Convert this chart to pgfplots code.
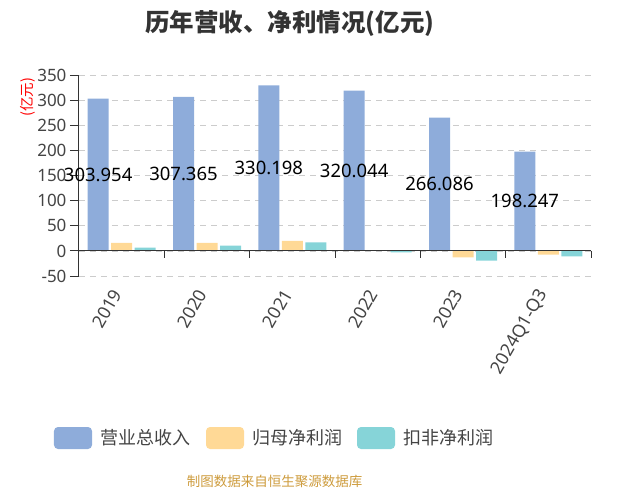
\documentclass[border=0pt]{standalone}
\usepackage{pgfplots}
\pgfplotsset{compat=1.18}
\usepackage{fontspec}
\setmainfont{Noto Sans}
\newfontfamily\cjk{Noto Sans CJK SC}
\definecolor{cRev}{RGB}{142,172,218}
\definecolor{cNet}{RGB}{255,217,150}
\definecolor{cDed}{RGB}{134,212,216}
\definecolor{axisc}{RGB}{51,51,51}
\definecolor{txt}{RGB}{68,68,68}
\definecolor{foot}{RGB}{205,155,60}
\begin{document}
\begin{tikzpicture}
\path[use as bounding box] (-79pt,-212pt) rectangle (539pt,276pt);
\begin{axis}[
  at={(0pt,0pt)}, anchor=south west, scale only axis,
  width=512pt, height=200.5pt,
  xmin=-0.5, xmax=5.5, ymin=-50, ymax=350,
  axis x line*=bottom, axis y line*=left,
  x axis line style={draw=none},
  y axis line style={axisc, line width=1pt},
  xtick={0,...,5}, xticklabels={2019,2020,2021,2022,2023,2024Q1-Q3},
  xtick style={draw=none},
  ytick={-50,0,...,350},
  ytick style={axisc, line width=1pt},
  tick align=outside, major tick length=9pt,
  ymajorgrids, grid style={dash pattern=on 6pt off 5pt, color=gray!40, line width=0.8pt},
  /pgf/number format/assume math mode=true,
  yticklabel style={font=\fontsize{17}{20}\selectfont, text=txt},
  xticklabel style={font=\fontsize{17.8}{20}\selectfont, text=txt, rotate=60, anchor=east, xshift=-4pt, yshift=1pt},
  clip=false,
]
\addplot[ybar, bar width=21pt, bar shift=-23.5pt, fill=cRev, draw=none] coordinates {(0,303.954)(1,307.365)(2,330.198)(3,320.044)(4,266.086)(5,198.247)};
\addplot[ybar, bar width=21pt, bar shift=0pt, fill=cNet, draw=none] coordinates {(0,16)(1,16)(2,20)(3,0.8)(4,-13)(5,-7.5)};
\addplot[ybar, bar width=21pt, bar shift=23.5pt, fill=cDed, draw=none] coordinates {(0,6.5)(1,10.5)(2,17)(3,-3)(4,-19.5)(5,-11)};
\addplot[only marks, mark=none, nodes near coords, point meta=explicit symbolic,
  nodes near coords style={font=\fontsize{18.5}{21}\selectfont, text=black, anchor=center}]
  coordinates {(-0.2754,151.977)[303.954] (0.7246,153.683)[307.365] (1.7246,165.099)[330.198] (2.7246,160.022)[320.044] (3.7246,133.043)[266.086] (4.7246,99.124)[198.247]};
\draw[axisc, line width=1pt] (axis cs:-0.5,0) -- (axis cs:5.5,0);
\pgfplotsinvokeforeach{0.5,1.5,2.5,3.5,4.5,5.5}{\draw[axisc, line width=1pt] (axis cs:#1,0) -- ++(0pt,-7pt);}
\end{axis}
\node[font=\cjk\bfseries\fontsize{24.5}{28}\selectfont, text=axisc] at (211pt,253pt) {历年营收、净利情况(亿元)};
\node[font=\cjk\fontsize{14.5}{16}\selectfont, text=red, rotate=90] at (-51pt,179pt) {(亿元)};
\fill[cRev, rounded corners=4pt] (-25pt,-173pt) rectangle (13pt,-151pt);
\fill[cNet, rounded corners=4pt] (127pt,-173pt) rectangle (165pt,-151pt);
\fill[cDed, rounded corners=4pt] (278pt,-173pt) rectangle (316pt,-151pt);
\node[font=\cjk\fontsize{18}{21}\selectfont, text=txt, anchor=west, inner sep=0pt] at (21pt,-162pt) {营业总收入};
\node[font=\cjk\fontsize{18}{21}\selectfont, text=txt, anchor=west, inner sep=0pt] at (173pt,-162pt) {归母净利润};
\node[font=\cjk\fontsize{18}{21}\selectfont, text=txt, anchor=west, inner sep=0pt] at (324pt,-162pt) {扣非净利润};
\node[font=\cjk\fontsize{13.5}{16}\selectfont, text=foot] at (195.5pt,-205pt) {制图数据来自恒生聚源数据库};
\end{tikzpicture}
\end{document}
